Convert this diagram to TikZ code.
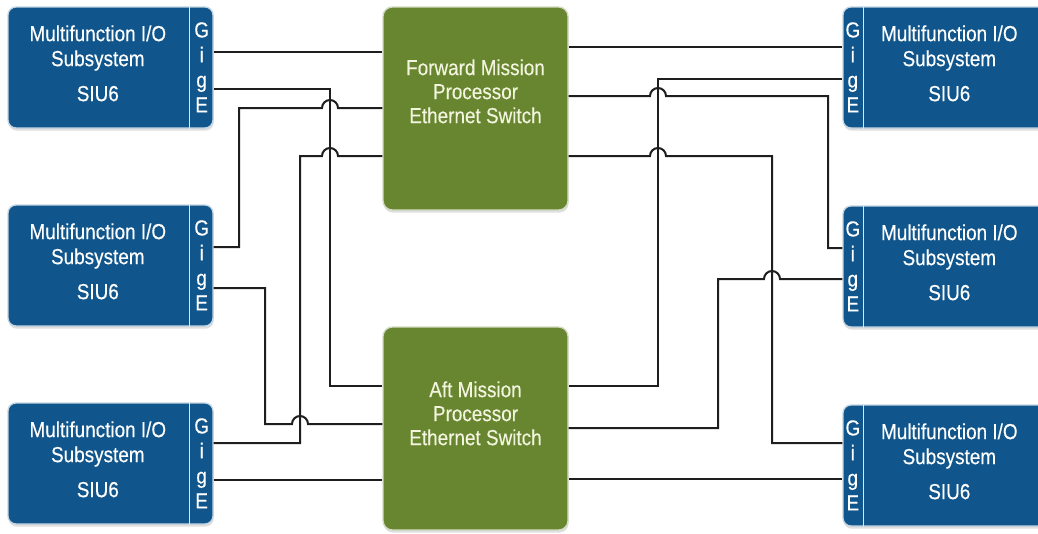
\documentclass[tikz,border=0pt]{standalone}
\usepackage{fontspec}
\newfontfamily\diagfont[FakeStretch=0.87, FakeBold=0.3]{Liberation Sans}
\usetikzlibrary{calc,shadows}
\definecolor{siublue}{RGB}{16,86,140}
\definecolor{switchgreen}{RGB}{104,134,48}
\definecolor{switchtext}{RGB}{242,244,222}
\definecolor{wiregray}{RGB}{30,30,30}

% bump where a wire jumps over a vertical one (x, y in px)
\newcommand{\hop}[2]{-- (#1-8,#2) arc[start angle=180, end angle=0, radius=6pt]}

\begin{document}
\begin{tikzpicture}[x=0.75pt, y=0.75pt,
            siu/.style={rectangle, rounded corners=6pt, draw=white!75!siublue, line width=1pt, fill=siublue, minimum width=153.75pt, minimum height=90.75pt, drop shadow={shadow xshift=0.5pt, shadow yshift=-2pt, opacity=0.25}},
            switch/.style={rectangle, rounded corners=7pt, draw=white!70!switchgreen, line width=1pt, fill=switchgreen, minimum width=138.75pt, minimum height=152.25pt, drop shadow={shadow xshift=0.5pt, shadow yshift=-2pt, opacity=0.25}},
            siutext/.style={text=white, align=center, inner sep=0pt, font=\diagfont\fontsize{16.3}{18.75}\selectfont},
            gige/.style={text=white, align=center, inner sep=0pt, font=\diagfont\fontsize{16.3}{18.75}\selectfont},
            switchtext/.style={text=switchtext, align=center, inner sep=0pt, font=\diagfont\fontsize{16.3}{18}\selectfont},
            divider/.style={white!85!siublue, line width=1pt},
            wire/.style={wiregray, line width=1.5pt}
        ]
        \useasboundingbox (0,0) rectangle (1038,-533);
        \clip (0,0) rectangle (1038,-533);

        % I/O subsystems, left column
        \node[siu] (tl) at (110.5,-67.5) {};
        \node[siu] (ml) at (110.5,-265.5) {};
        \node[siu] (bl) at (110.5,-463.5) {};
        \draw[divider] ($(tl.north east)+(-24,0)$) -- ($(tl.south east)+(-24,0)$);
        \draw[divider] ($(ml.north east)+(-24,0)$) -- ($(ml.south east)+(-24,0)$);
        \draw[divider] ($(bl.north east)+(-24,0)$) -- ($(bl.south east)+(-24,0)$);
        \node[siutext] (tl-name) at ($(tl.north west)+(90.5,-57)$) {Multifunction I/O\\Subsystem\\[7.5pt]SIU6};
        \node[siutext] (ml-name) at ($(ml.north west)+(90.5,-57)$) {Multifunction I/O\\Subsystem\\[7.5pt]SIU6};
        \node[siutext] (bl-name) at ($(bl.north west)+(90.5,-57)$) {Multifunction I/O\\Subsystem\\[7.5pt]SIU6};
        \node[gige] (tl-gige) at ($(tl.north east)+(-12,-61)$) {G\\i\\g\\E};
        \node[gige] (ml-gige) at ($(ml.north east)+(-12,-61)$) {G\\i\\g\\E};
        \node[gige] (bl-gige) at ($(bl.north east)+(-12,-61)$) {G\\i\\g\\E};

        % I/O subsystems, right column
        \node[siu] (tr) at (945.5,-67.5) {};
        \node[siu] (mr) at (945.5,-266.5) {};
        \node[siu] (br) at (945.5,-465.5) {};
        \draw[divider] ($(tr.north west)+(21,0)$) -- ($(tr.south west)+(21,0)$);
        \draw[divider] ($(mr.north west)+(21,0)$) -- ($(mr.south west)+(21,0)$);
        \draw[divider] ($(br.north west)+(21,0)$) -- ($(br.south west)+(21,0)$);
        \node[siutext] (tr-name) at ($(tr.north west)+(107,-57)$) {Multifunction I/O\\Subsystem\\[7.5pt]SIU6};
        \node[siutext] (mr-name) at ($(mr.north west)+(107,-57)$) {Multifunction I/O\\Subsystem\\[7.5pt]SIU6};
        \node[siutext] (br-name) at ($(br.north west)+(107,-57)$) {Multifunction I/O\\Subsystem\\[7.5pt]SIU6};
        \node[gige] (tr-gige) at ($(tr.north west)+(10.5,-61)$) {G\\i\\g\\E};
        \node[gige] (mr-gige) at ($(mr.north west)+(10.5,-61)$) {G\\i\\g\\E};
        \node[gige] (br-gige) at ($(br.north west)+(10.5,-61)$) {G\\i\\g\\E};

        % the two switches
        \node[switch] (fwd) at (475.5,-108.5) {};
        \node[switchtext] (fwd-name) at ($(fwd.north)+(0,-85)$) {Forward Mission\\Processor\\Ethernet Switch};
        \node[switch] (aft) at (475.5,-428.5) {};
        \node[switchtext] (aft-name) at ($(aft.north)+(0,-87)$) {Aft Mission\\Processor\\Ethernet Switch};

        % GigE ports
        \coordinate (tl1) at (tl.east |- 0,-52);
        \coordinate (tl2) at (tl.east |- 0,-89);
        \coordinate (ml1) at (ml.east |- 0,-247);
        \coordinate (ml2) at (ml.east |- 0,-288);
        \coordinate (bl1) at (bl.east |- 0,-443);
        \coordinate (bl2) at (bl.east |- 0,-480);
        \coordinate (tr1) at (tr.west |- 0,-47);
        \coordinate (tr2) at (tr.west |- 0,-79);
        \coordinate (mr1) at (mr.west |- 0,-248);
        \coordinate (mr2) at (mr.west |- 0,-279);
        \coordinate (br1) at (br.west |- 0,-443);
        \coordinate (br2) at (br.west |- 0,-479);

        % switch ports
        \coordinate (fl2) at (fwd.west |- 0,-108);
        \coordinate (fl3) at (fwd.west |- 0,-156);
        \coordinate (al1) at (aft.west |- 0,-386);
        \coordinate (al2) at (aft.west |- 0,-424);
        \coordinate (fr2) at (fwd.east |- 0,-96);
        \coordinate (fr3) at (fwd.east |- 0,-156);
        \coordinate (ar1) at (aft.east |- 0,-386);
        \coordinate (ar2) at (aft.east |- 0,-428);

        % left side wiring
        \draw[wire] (tl1) -- (tl1 -| fwd.west);
        \draw[wire] (tl2) -| (330,-386) -- (al1);
        \draw[wire] (ml1) -| (239,-108) \hop{330}{-108} -- (fl2);
        \draw[wire] (ml2) -| (265,-424) \hop{300}{-424} -- (al2);
        \draw[wire] (bl1) -| (300,-156) \hop{330}{-156} -- (fl3);
        \draw[wire] (bl2) -- (bl2 -| aft.west);

        % right side wiring
        \draw[wire] (fwd.east |- tr1) -- (tr1);
        \draw[wire] (fr2) \hop{658}{-96} -- (828,-96) |- (mr1);
        \draw[wire] (fr3) \hop{658}{-156} -- (772,-156) |- (br1);
        \draw[wire] (tr2) -| (658,-386) -- (ar1);
        \draw[wire] (ar2) -| (718,-279) \hop{772}{-279} -- (mr2);
        \draw[wire] (aft.east |- br2) -- (br2);
\end{tikzpicture}
\end{document}
